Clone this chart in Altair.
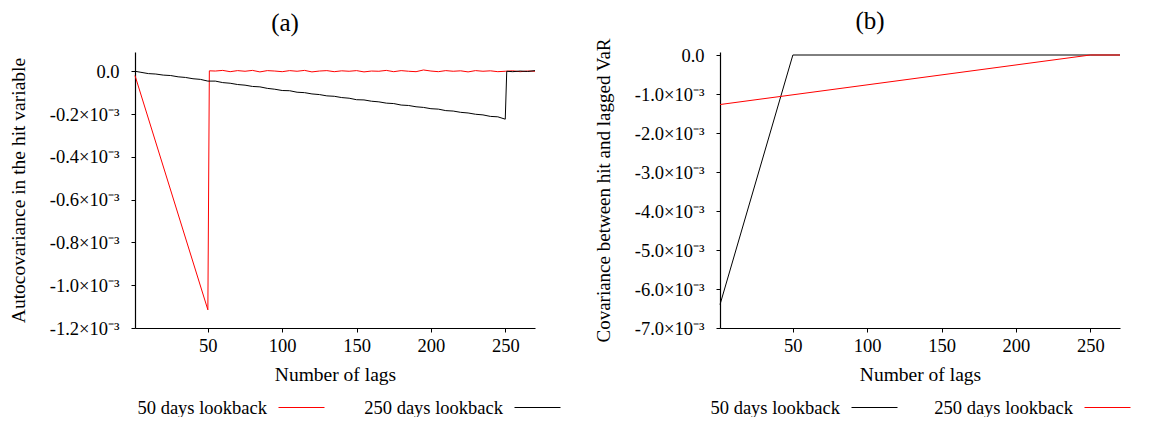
import altair as alt
import pandas as pd

FONT = "Liberation Serif"
SERIES = ["50 days lookback", "250 days lookback"]

# ---------------- Panel (a): autocovariance (units of 1e-3) ----------------
a50_lag = [1, 50, 51, 55, 60, 65, 70, 75, 80, 85, 90, 95, 100, 105, 110, 115, 120,
           125, 130, 135, 140, 145, 150, 155, 160, 165, 170, 175, 180, 185, 190,
           195, 200, 205, 210, 215, 220, 225, 230, 235, 240, 245, 250, 255, 260,
           265, 270]
a50_val = [-0.02, -1.115, 0.002, 0.001, 0.004, -0.002, 0.003, 0.000, 0.004, -0.003,
           0.003, 0.001, -0.002, 0.003, 0.000, 0.004, -0.003, 0.001, 0.003, -0.002,
           0.002, 0.000, 0.003, -0.003, 0.001, 0.000, 0.004, -0.002, 0.003, 0.000,
           -0.002, 0.006, 0.001, -0.002, 0.003, 0.000, 0.002, -0.003, 0.003, 0.000,
           0.002, -0.002, 0.000, 0.002, -0.002, 0.001, 0.000]

a250_lag = [1, 5, 10, 15, 20, 25, 30, 35, 40, 45, 50, 55, 60, 65, 70, 75, 80, 85,
            90, 95, 100, 105, 110, 115, 120, 125, 130, 135, 140, 145, 150, 155,
            160, 165, 170, 175, 180, 185, 190, 195, 200, 205, 210, 215, 220, 225,
            230, 235, 240, 245, 250, 251, 255, 260, 265, 270]
a250_val = [0.000, -0.005, -0.011, -0.013, -0.018, -0.020, -0.026, -0.029, -0.035,
            -0.038, -0.046, -0.046, -0.053, -0.056, -0.062, -0.065, -0.071, -0.073,
            -0.080, -0.084, -0.090, -0.091, -0.098, -0.100, -0.106, -0.109, -0.115,
            -0.117, -0.123, -0.126, -0.133, -0.134, -0.140, -0.143, -0.149, -0.151,
            -0.158, -0.160, -0.166, -0.169, -0.175, -0.177, -0.184, -0.186, -0.192,
            -0.195, -0.201, -0.204, -0.211, -0.213, -0.224, 0.000, -0.002, 0.001,
            -0.001, 0.003]

# ---------------- Panel (b): covariance hit vs lagged VaR (units of 1e-3) ----
b50_lag = [1, 50, 270]
b50_val = [-6.4, 0.0, 0.0]
b250_lag = [1, 250, 270]
b250_val = [-1.27, 0.0, 0.0]

a_ticks = [-1.2, -1.0, -0.8, -0.6, -0.4, -0.2, 0.0]
b_ticks = [-7.0, -6.0, -5.0, -4.0, -3.0, -2.0, -1.0, 0.0]
x_ticks = [50, 100, 150, 200, 250]


def frame(l1, v1, l2, v2):
    return pd.concat([
        pd.DataFrame({"lag": l1, "value": v1, "series": SERIES[0]}),
        pd.DataFrame({"lag": l2, "value": v2, "series": SERIES[1]}),
    ])


LABEL_EXPR = ("datum.value == 0 ? '0.0' : "
              "replace(format(datum.value, '.1f'), '\u2212', '-') + '\u00d710\u207b\u00b3'")


def panel(df, title, ydomain, yticks, ytitle, ytsize, colors, legx, colpad, toffset):
    return alt.Chart(df).mark_line(strokeWidth=1).encode(
        x=alt.X("lag:Q", scale=alt.Scale(domain=[1, 270], nice=False, zero=False),
                axis=alt.Axis(values=x_ticks, title="Number of lags")),
        y=alt.Y("value:Q", scale=alt.Scale(domain=ydomain, nice=False, zero=False),
                axis=alt.Axis(values=yticks, labelExpr=LABEL_EXPR, title=ytitle,
                              titleFontSize=ytsize)),
        color=alt.Color("series:N",
                        scale=alt.Scale(domain=SERIES, range=colors),
                        legend=alt.Legend(orient="none", legendX=legx, legendY=345,
                                          direction="horizontal", title=None,
                                          symbolType="M-2.3,0H2.3", symbolSize=400,
                                          symbolStrokeWidth=1,
                                          symbolFillColor="transparent",
                                          labelAlign="right",
                                          labelOffset={"expr": "-45"},
                                          columnPadding=colpad,
                                          labelFont=FONT, labelFontSize=18.5,
                                          labelColor="black")),
        detail="series:N",
        order="lag:Q",
    ).properties(
        width=400, height=276,
        title=alt.TitleParams(title, fontSize=25, font=FONT, fontWeight="normal",
                              anchor="middle", frame="group", dx=-50,
                              offset=toffset, color="black"),
    )


pa = panel(frame(a50_lag, a50_val, a250_lag, a250_val), "(a)", [-1.2, 0.09],
           a_ticks, "Autocovariance in the hit variable", 19.5,
           ["#ff0000", "#000000"], 156, 37, 16)
pb = panel(frame(b50_lag, b50_val, b250_lag, b250_val), "(b)", [-7.0, 0.077],
           b_ticks, "Covariance between hit and lagged VaR", 19,
           ["#000000", "#ff0000"], 144, 34, 4)

chart = alt.hconcat(pa, pb, spacing=31).resolve_scale(
    color="independent"
).resolve_legend(color="independent").properties(
    padding={"left": 0, "top": 0, "right": 0, "bottom": 0}
).configure_view(stroke=None).configure_axis(
    grid=False, domainColor="black", domainWidth=1.2, tickColor="black",
    tickSize=4, labelFont=FONT, labelFontSize=18.5, labelColor="black",
    titleFont=FONT, titleFontSize=19.5, titleFontWeight="normal", titleColor="black",
).configure_axisX(titlePadding=11, labelPadding=4).configure_axisY(
    titlePadding=21, labelPadding=12)

chart.save("out.html", embed_options={"renderer": "svg", "actions": False})
